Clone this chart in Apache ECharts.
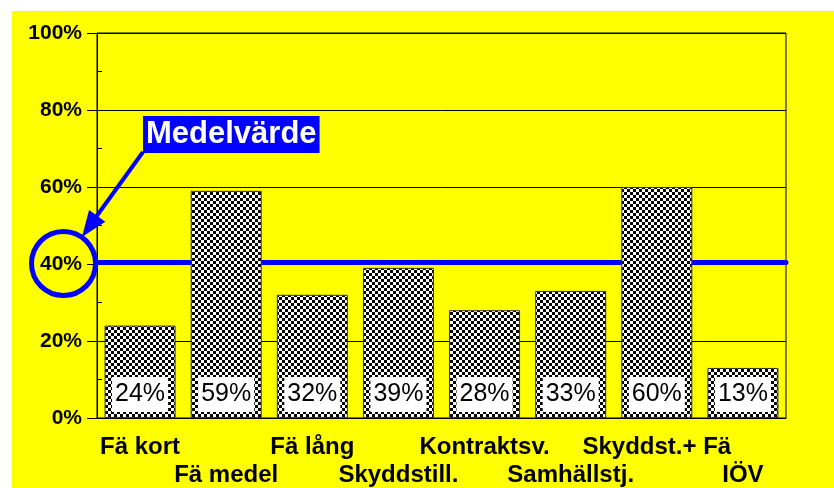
<!DOCTYPE html>
<html>
<head>
<meta charset="utf-8">
<script src="https://cdn.jsdelivr.net/npm/echarts@6/dist/echarts.min.js"></script>
<style>
html, body { margin: 0; background: #fff; }
#chart { width: 834px; height: 488px; background: linear-gradient(#ff0, #ff0) no-repeat 12px 11px / 822px 477px, #fff; }
</style>
</head>
<body>
<div id="chart"></div>
<script>
const categories = ['Fä kort', 'Fä medel', 'Fä lång', 'Skyddstill.', 'Kontraktsv.', 'Samhällstj.', 'Skyddst.+ Fä', 'IÖV'];
const shares = [24, 59, 32, 39, 28, 33, 60, 13];
const meanShare = 40.4;
const yMin = 0, yMax = 100, yStep = 20;
const calloutText = 'Medelvärde';

const font = 'Liberation Sans, Arial, sans-serif';

// svartvitt rutmönster för staplarna
function checker(cell) {
  const c = document.createElement('canvas');
  c.width = c.height = cell * 2;
  const g = c.getContext('2d');
  g.fillStyle = '#fff';
  g.fillRect(0, 0, cell * 2, cell * 2);
  g.fillStyle = '#000';
  g.fillRect(0, 0, cell, cell);
  g.fillRect(cell, cell, cell, cell);
  return c;
}

const chart = echarts.init(document.getElementById('chart'));
chart.setOption({
  animation: false,
  grid: { left: 97, right: 48, top: 33, bottom: 70, show: true, borderColor: '#000', borderWidth: 1, outerBoundsMode: 'none' },
  xAxis: [{
    type: 'category',
    data: categories,
    axisLine: { lineStyle: { color: '#000', width: 1 } },
    axisTick: { alignWithLabel: true, length: 10, lineStyle: { color: '#000' } },
    axisLabel: {
      interval: 0,
      margin: 15,
      lineHeight: 28,
      color: '#000',
      fontFamily: font,
      fontWeight: 'bold',
      fontSize: 24,
      formatter: (v, i) => (i % 2 ? '\n' + v : v)
    }
  }, {
    type: 'value', min: 0, max: 1, show: false
  }],
  yAxis: {
    type: 'value',
    min: yMin, max: yMax, interval: yStep,
    axisLine: { show: true, lineStyle: { color: '#000' } },
    axisTick: { show: true, length: 10, lineStyle: { color: '#000' } },
    minorTick: { show: true, splitNumber: 2, length: -5, lineStyle: { color: '#000' } },
    splitLine: { show: true, lineStyle: { color: '#000', width: 1 } },
    axisLabel: { margin: 15, color: '#000', fontFamily: font, fontWeight: 'bold', fontSize: 21, formatter: '{value}%' }
  },
  series: [{
    type: 'line',
    xAxisIndex: 1,
    data: [[0, meanShare], [1, meanShare]],
    symbol: 'none',
    z: 1,
    lineStyle: { color: '#0000ff', width: 5, cap: 'round' }
  }, {
    type: 'bar',
    data: shares,
    barWidth: 71,
    z: 3,
    itemStyle: { color: { image: checker(3), repeat: 'repeat' }, borderColor: '#333', borderWidth: 1 },
    label: {
      show: true,
      position: 'insideBottom',
      distance: 6,
      formatter: p => p.value + '%',
      backgroundColor: '#fff',
      padding: [5, 3, 5, 3],
      color: '#000',
      fontFamily: font,
      fontSize: 25
    }
  }],
  graphic: [
    { type: 'circle', shape: { cx: 63.5, cy: 263.5, r: 32 }, style: { fill: 'none', stroke: '#0000ff', lineWidth: 5 }, z: 10 },
    { type: 'line', shape: { x1: 143, y1: 152, x2: 96, y2: 217 }, style: { stroke: '#0000ff', lineWidth: 4 }, z: 10 },
    { type: 'polygon', shape: { points: [[82, 237], [105.3, 221.7], [89.1, 210.1]] }, style: { fill: '#0000ff' }, z: 10 },
    {
      type: 'text', left: 143, top: 116, z: 11,
      style: {
        text: calloutText, fill: '#fff', font: 'bold 31px ' + font,
        backgroundColor: '#0000ff', padding: [3, 3, 3, 3]
      }
    }
  ]
});
</script>
</body>
</html>
